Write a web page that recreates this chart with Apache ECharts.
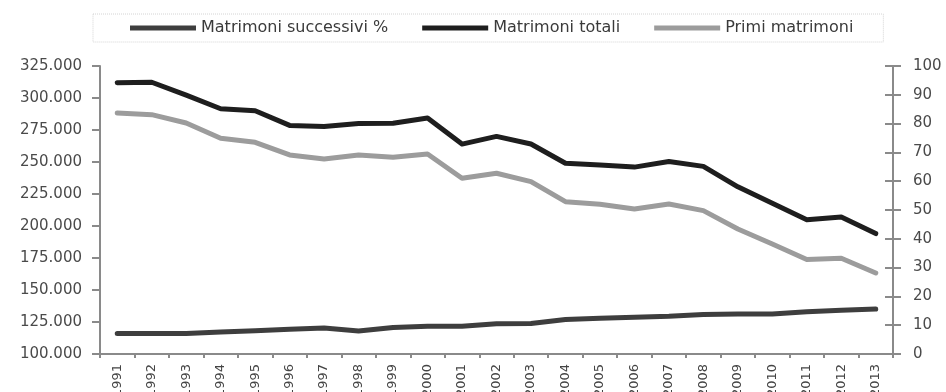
<!DOCTYPE html>
<html>
<head>
<meta charset="utf-8">
<script src="https://cdn.jsdelivr.net/npm/echarts@6/dist/echarts.min.js"></script>
<style>
html,body{margin:0;padding:0;background:#fff;}
#chart{width:946px;height:392px;}
</style>
</head>
<body>
<div id="chart"></div>
<script>
const years = ['1991','1992','1993','1994','1995','1996','1997','1998','1999','2000','2001','2002','2003','2004','2005','2006','2007','2008','2009','2010','2011','2012','2013'];
const seriesNames = ['Matrimoni successivi %','Matrimoni totali','Primi matrimoni'];
const matrimoniTotali = [312000,312300,302200,291600,290000,278600,277700,280000,280300,284400,264000,270000,264100,249000,247700,246000,250400,246600,230600,217700,204800,207100,194100];
const primiMatrimoni = [288300,287000,280500,268500,265400,255500,252400,255500,253700,256300,237300,241200,234700,219000,217000,213300,217200,212000,197700,186000,173800,174800,163300];
const successiviPct = [7.1,7.1,7.1,7.6,8.1,8.6,9.0,8.0,9.2,9.6,9.6,10.5,10.6,12.0,12.4,12.8,13.1,13.7,13.9,13.9,14.7,15.2,15.6];
const leftAxisRange = [100000, 325000, 25000];
const rightAxisRange = [0, 100, 10];

const chart = echarts.init(document.getElementById('chart'), null, {renderer:'canvas'});
const FONT = 'DejaVu Sans';
const axisGray = '#8a8a8a';
function itFmt(v){
  return String(v).replace(/\B(?=(\d{3})+(?!\d))/g, '.');
}
const option = {
  backgroundColor:'#ffffff',
  animation:false,
  legend:{
    data: seriesNames,
    left: 93, top: 14,
    padding:[6,30,6,37],
    itemGap: 34,
    itemWidth: 66, itemHeight: 5,
    icon:'rect',
    borderColor:'#d4d4d4', borderWidth:1, borderType:'dotted',
    textStyle:{fontFamily:FONT, fontSize:16, color:'#3a3a3a'}
  },
  grid:{left:100, right:53, top:66, bottom:38, containLabel:false, outerBoundsMode:'none'},
  xAxis:{
    type:'category', data: years, boundaryGap:true,
    axisLine:{show:true, lineStyle:{color:axisGray, width:2}},
    axisTick:{show:true, length:4, lineStyle:{color:axisGray, width:2}},
    axisLabel:{rotate:90, interval:0, margin:10, fontFamily:FONT, fontSize:13, color:'#444'},
    splitLine:{show:false}
  },
  yAxis:[
    {type:'value', position:'left', min:leftAxisRange[0], max:leftAxisRange[1], interval:leftAxisRange[2],
     axisLine:{show:true, lineStyle:{color:axisGray, width:2}},
     axisTick:{show:true, length:8, lineStyle:{color:axisGray, width:2}},
     axisLabel:{margin:18, fontFamily:FONT, fontSize:15, color:'#4a4a4a', formatter:itFmt},
     splitLine:{show:false}},
    {type:'value', position:'right', min:rightAxisRange[0], max:rightAxisRange[1], interval:rightAxisRange[2],
     axisLine:{show:true, onZero:false, lineStyle:{color:axisGray, width:2}},
     axisTick:{show:true, length:8, lineStyle:{color:axisGray, width:2}},
     axisLabel:{margin:20, fontFamily:FONT, fontSize:15, color:'#4a4a4a'},
     splitLine:{show:false}},
    {type:'value', position:'right', min:rightAxisRange[0], max:rightAxisRange[1], interval:rightAxisRange[2],
     axisLine:{show:false},
     axisTick:{show:true, inside:true, length:8, lineStyle:{color:axisGray, width:2}},
     axisLabel:{show:false},
     splitLine:{show:false}}
  ],
  series:[
    {name:seriesNames[0], type:'line', yAxisIndex:1, data:successiviPct, symbol:'none', color:'#3e3e3e',
     lineStyle:{width:5, color:'#3e3e3e', cap:'round', join:'round'}, z:3},
    {name:seriesNames[1], type:'line', yAxisIndex:0, data:matrimoniTotali, symbol:'none', color:'#1e1e1e',
     lineStyle:{width:5, color:'#1e1e1e', cap:'round', join:'round'}, z:4},
    {name:seriesNames[2], type:'line', yAxisIndex:0, data:primiMatrimoni, symbol:'none', color:'#9c9c9c',
     lineStyle:{width:5, color:'#9c9c9c', cap:'round', join:'round'}, z:2}
  ]
};
chart.setOption(option);
</script>
</body>
</html>
